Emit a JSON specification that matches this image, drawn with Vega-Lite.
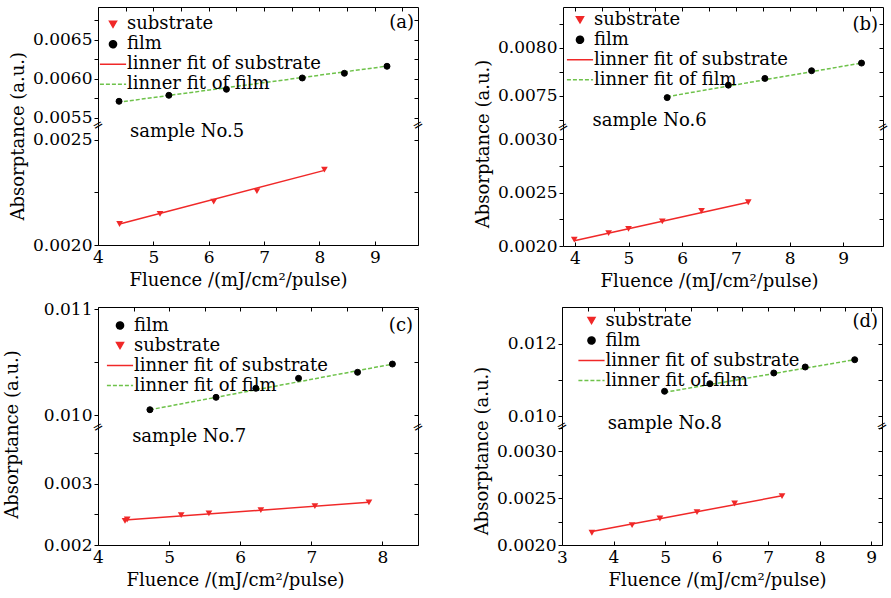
{
"$schema":"https://vega.github.io/schema/vega-lite/v6.json",
"padding":{"left":3,"top":6,"right":2,"bottom":2},
"datasets":{
"d":[
{"p":"a","label":"film","x":4.38,"y":0.005714},{"p":"a","label":"film","x":5.28,"y":0.005791},{"p":"a","label":"film","x":6.32,"y":0.005868},{"p":"a","label":"film","x":7.69,"y":0.006013},{"p":"a","label":"film","x":8.45,"y":0.006073},{"p":"a","label":"film","x":9.22,"y":0.006163},
{"p":"a","label":"linner fit of film","x":4.36,"y":0.005701},{"p":"a","label":"linner fit of film","x":9.2,"y":0.006163},
{"p":"a","label":"substrate","x":4.39,"y":0.0021},{"p":"a","label":"substrate","x":5.12,"y":0.002148},{"p":"a","label":"substrate","x":6.09,"y":0.002206},{"p":"a","label":"substrate","x":6.87,"y":0.002256},{"p":"a","label":"substrate","x":8.09,"y":0.002359},
{"p":"a","label":"linner fit of substrate","x":4.39,"y":0.0021},{"p":"a","label":"linner fit of substrate","x":8.09,"y":0.002355},
{"p":"b","label":"film","x":5.72,"y":0.00748},{"p":"b","label":"film","x":6.86,"y":0.00761},{"p":"b","label":"film","x":7.54,"y":0.00768},{"p":"b","label":"film","x":8.41,"y":0.00776},{"p":"b","label":"film","x":9.34,"y":0.00784},
{"p":"b","label":"linner fit of film","x":5.72,"y":0.00749},{"p":"b","label":"linner fit of film","x":9.34,"y":0.00784},
{"p":"b","label":"substrate","x":3.99,"y":0.00206},{"p":"b","label":"substrate","x":4.63,"y":0.00212},{"p":"b","label":"substrate","x":5.0,"y":0.00216},{"p":"b","label":"substrate","x":5.63,"y":0.00223},{"p":"b","label":"substrate","x":6.36,"y":0.00233},{"p":"b","label":"substrate","x":7.23,"y":0.00241},
{"p":"b","label":"linner fit of substrate","x":3.99,"y":0.00205},{"p":"b","label":"linner fit of substrate","x":7.23,"y":0.00241},
{"p":"c","label":"film","x":4.73,"y":0.01005},{"p":"c","label":"film","x":5.66,"y":0.010167},{"p":"c","label":"film","x":6.22,"y":0.010252},{"p":"c","label":"film","x":6.82,"y":0.010346},{"p":"c","label":"film","x":7.65,"y":0.010403},{"p":"c","label":"film","x":8.14,"y":0.010481},
{"p":"c","label":"linner fit of film","x":4.73,"y":0.01005},{"p":"c","label":"linner fit of film","x":8.14,"y":0.01048},
{"p":"c","label":"substrate","x":4.38,"y":0.002395},{"p":"c","label":"substrate","x":4.41,"y":0.002418},{"p":"c","label":"substrate","x":5.17,"y":0.00249},{"p":"c","label":"substrate","x":5.56,"y":0.002517},{"p":"c","label":"substrate","x":6.29,"y":0.002572},{"p":"c","label":"substrate","x":7.05,"y":0.002638},{"p":"c","label":"substrate","x":7.81,"y":0.0027},
{"p":"c","label":"linner fit of substrate","x":4.38,"y":0.00241},{"p":"c","label":"linner fit of substrate","x":7.81,"y":0.0027},
{"p":"d","label":"film","x":4.99,"y":0.010689},{"p":"d","label":"film","x":5.87,"y":0.010898},{"p":"d","label":"film","x":7.11,"y":0.011193},{"p":"d","label":"film","x":7.72,"y":0.011358},{"p":"d","label":"film","x":8.68,"y":0.011559},
{"p":"d","label":"linner fit of film","x":4.99,"y":0.01066},{"p":"d","label":"linner fit of film","x":8.68,"y":0.01156},
{"p":"d","label":"substrate","x":3.58,"y":0.002131},{"p":"d","label":"substrate","x":4.36,"y":0.002213},{"p":"d","label":"substrate","x":4.9,"y":0.002283},{"p":"d","label":"substrate","x":5.62,"y":0.002351},{"p":"d","label":"substrate","x":6.35,"y":0.002443},{"p":"d","label":"substrate","x":7.27,"y":0.002521},
{"p":"d","label":"linner fit of substrate","x":3.58,"y":0.002145},{"p":"d","label":"linner fit of substrate","x":7.27,"y":0.002525}
],
"notes":[
{"p":"a","tag":"(a)","sample":"sample No.5","brk":"="},
{"p":"b","tag":"(b)","sample":"sample No.6","brk":"="},
{"p":"c","tag":"(c)","sample":"sample No.7","brk":"="},
{"p":"d","tag":"(d)","sample":"sample No.8","brk":"="}
]
},
"data":{"name":"d"},
"spacing":10,
"resolve":{"scale":{"x":"independent","y":"independent","fill":"independent","stroke":"independent","shape":"independent","strokeDash":"independent"},"legend":{"fill":"independent","stroke":"independent","shape":"independent","strokeDash":"independent"}},
"vconcat":[
{"hconcat":[
 {"vconcat":[
  {"width":320,"height":118,"resolve":{"axis":{"x":"independent","y":"independent"}},
   "layer":[
    {"transform":[{"filter":"datum.p==='a' && datum.label==='linner fit of film'"}],
     "mark":{"type":"line","strokeWidth":1.5},
     "encoding":{
      "x":{"field":"x","type":"quantitative","scale":{"domain":[4,9.78],"nice":false,"zero":false},"axis":{"orient":"top","values":[4,4.5,5,5.5,6,6.5,7,7.5,8,8.5,9,9.5],"labels":false,"tickSize":-4,"title":null}},
      "y":{"field":"y","type":"quantitative","scale":{"domain":[0.00541,0.006923],"nice":false,"zero":false},"axis":{"orient":"right","values":[0.0055,0.00575,0.006,0.00625,0.0065,0.00675],"labels":false,"tickSize":-4,"title":null}},
      "stroke":{"field":"label","type":"nominal","scale":{"domain":["substrate","film","linner fit of substrate","linner fit of film"],"range":["#f02828","#000000","#f02828","#6ec24a"]},"legend":{"orient":"none","legendX":6,"legendY":8.2,"title":null}},
      "strokeDash":{"field":"label","type":"nominal","scale":{"domain":["substrate","film","linner fit of substrate","linner fit of film"],"range":[[1,0],[1,0],[1,0],[4,2]]},"legend":{"orient":"none","legendX":6,"legendY":8.2,"title":null}}
     }},
    {"transform":[{"filter":"datum.p==='a' && datum.label==='film'"}],
     "mark":{"type":"point","filled":true,"size":36,"opacity":1,"strokeWidth":1},
     "encoding":{
      "x":{"field":"x","type":"quantitative","scale":{"domain":[4,9.78],"nice":false,"zero":false},"axis":null},
      "y":{"field":"y","type":"quantitative","scale":{"domain":[0.00541,0.006923],"nice":false,"zero":false},"axis":{"orient":"left","values":[0.0055,0.00575,0.006,0.00625,0.0065,0.00675],"format":".4f","labelExpr":"abs(datum.value*2000-round(datum.value*2000))<0.01 ? datum.label : ''","tickSize":4,"labelPadding":2,"title":null}},
      "fill":{"field":"label","type":"nominal","scale":{"domain":["substrate","film","linner fit of substrate","linner fit of film"],"range":["#f02828","#000000","#f02828","#6ec24a"]},"legend":{"orient":"none","legendX":6,"legendY":8.2,"title":null}},
      "stroke":{"field":"label","type":"nominal","scale":{"domain":["substrate","film","linner fit of substrate","linner fit of film"],"range":["#f02828","#000000","#f02828","#6ec24a"]},"legend":{"orient":"none","legendX":6,"legendY":8.2,"title":null}},
      "shape":{"field":"label","type":"nominal","scale":{"domain":["substrate","film","linner fit of substrate","linner fit of film"],"range":["triangle-down","circle","M-3.7,0H3.7","M-3.7,0H3.7"]},"legend":{"orient":"none","legendX":6,"legendY":8.2,"title":null}}
     }},
    {"data":{"name":"notes"},"transform":[{"filter":"datum.p==='a'"}],
     "mark":{"type":"text","align":"right","baseline":"middle","dx":-4,"fontSize":18},
     "encoding":{"x":{"datum":9.78,"type":"quantitative","scale":{"domain":[4,9.78],"nice":false,"zero":false},"axis":null},"y":{"datum":0.006722,"type":"quantitative","scale":{"domain":[0.00541,0.006923],"nice":false,"zero":false},"axis":null},"text":{"field":"tag"}}},
    {"data":{"name":"notes"},"transform":[{"filter":"datum.p==='a'"}],
     "mark":{"type":"text","align":"center","baseline":"middle","angle":330,"font":"DejaVu Sans","fontSize":13},
     "encoding":{"x":{"datum":4,"type":"quantitative","scale":{"domain":[4,9.78],"nice":false,"zero":false},"axis":null},"y":{"datum":0.00541,"type":"quantitative","scale":{"domain":[0.00541,0.006923],"nice":false,"zero":false},"axis":null},"text":{"field":"brk"}}},
    {"data":{"name":"notes"},"transform":[{"filter":"datum.p==='a'"}],
     "mark":{"type":"text","align":"center","baseline":"middle","angle":330,"font":"DejaVu Sans","fontSize":13},
     "encoding":{"x":{"datum":9.78,"type":"quantitative","scale":{"domain":[4,9.78],"nice":false,"zero":false},"axis":null},"y":{"datum":0.00541,"type":"quantitative","scale":{"domain":[0.00541,0.006923],"nice":false,"zero":false},"axis":null},"text":{"field":"brk"}}}
   ]},
  {"width":320,"height":120,"resolve":{"axis":{"x":"independent","y":"independent"}},
   "layer":[
    {"transform":[{"filter":"datum.p==='a' && datum.label==='linner fit of substrate'"}],
     "mark":{"type":"line","strokeWidth":1.5,"color":"#f02828"},
     "encoding":{
      "x":{"field":"x","type":"quantitative","scale":{"domain":[4,9.78],"nice":false,"zero":false},"axis":{"orient":"bottom","values":[4,4.5,5,5.5,6,6.5,7,7.5,8,8.5,9,9.5],"format":"d","labelExpr":"datum.value % 1 === 0 ? datum.label : ''","tickSize":-4,"labelPadding":8,"title":"Fluence /(mJ/cm²/pulse)","titleX":140,"titlePadding":6}},
      "y":{"field":"y","type":"quantitative","scale":{"domain":[0.002,0.002571],"nice":false,"zero":false},"axis":{"orient":"right","values":[0.002,0.00225,0.0025],"labels":false,"tickSize":-4,"title":null}}
     }},
    {"transform":[{"filter":"datum.p==='a' && datum.label==='substrate'"}],
     "mark":{"type":"point","filled":true,"shape":"triangle-down","size":45,"color":"#f02828","opacity":1},
     "encoding":{
      "x":{"field":"x","type":"quantitative","scale":{"domain":[4,9.78],"nice":false,"zero":false},"axis":null},
      "y":{"field":"y","type":"quantitative","scale":{"domain":[0.002,0.002571],"nice":false,"zero":false},"axis":{"orient":"left","values":[0.002,0.00225,0.0025],"format":".4f","labelExpr":"abs(datum.value*2000-round(datum.value*2000))<0.01 ? datum.label : ''","tickSize":4,"labelPadding":2,"title":"Absorptance (a.u.)","titleY":10.7,"titlePadding":5}}
     }},
    {"data":{"name":"notes"},"transform":[{"filter":"datum.p==='a'"}],
     "mark":{"type":"text","align":"left","baseline":"middle","fontSize":18},
     "encoding":{"x":{"datum":4.58,"type":"quantitative","scale":{"domain":[4,9.78],"nice":false,"zero":false},"axis":null},"y":{"datum":0.002537,"type":"quantitative","scale":{"domain":[0.002,0.002571],"nice":false,"zero":false},"axis":null},"text":{"field":"sample"}}}
   ]}
 ],"spacing":0,"bounds":"flush","resolve":{"scale":{"x":"independent","y":"independent","fill":"independent","stroke":"independent","shape":"independent","strokeDash":"independent"},"legend":{"fill":"independent","stroke":"independent","shape":"independent","strokeDash":"independent"}}},
 {"vconcat":[
  {"width":320,"height":120,"resolve":{"axis":{"x":"independent","y":"independent"}},
   "layer":[
    {"transform":[{"filter":"datum.p==='b' && datum.label==='linner fit of film'"}],
     "mark":{"type":"line","strokeWidth":1.5},
     "encoding":{
      "x":{"field":"x","type":"quantitative","scale":{"domain":[3.78,9.74],"nice":false,"zero":false},"axis":{"orient":"top","values":[4,4.5,5,5.5,6,6.5,7,7.5,8,8.5,9,9.5],"labels":false,"tickSize":-4,"title":null}},
      "y":{"field":"y","type":"quantitative","scale":{"domain":[0.007174,0.008424],"nice":false,"zero":false},"axis":{"orient":"right","values":[0.00725,0.0075,0.00775,0.008,0.00825],"labels":false,"tickSize":-4,"title":null}},
      "stroke":{"field":"label","type":"nominal","scale":{"domain":["substrate","film","linner fit of substrate","linner fit of film"],"range":["#f02828","#000000","#f02828","#6ec24a"]},"legend":{"orient":"none","legendX":8,"legendY":3.8,"title":null}},
      "strokeDash":{"field":"label","type":"nominal","scale":{"domain":["substrate","film","linner fit of substrate","linner fit of film"],"range":[[1,0],[1,0],[1,0],[4,2]]},"legend":{"orient":"none","legendX":8,"legendY":3.8,"title":null}}
     }},
    {"transform":[{"filter":"datum.p==='b' && datum.label==='film'"}],
     "mark":{"type":"point","filled":true,"size":36,"opacity":1,"strokeWidth":1},
     "encoding":{
      "x":{"field":"x","type":"quantitative","scale":{"domain":[3.78,9.74],"nice":false,"zero":false},"axis":null},
      "y":{"field":"y","type":"quantitative","scale":{"domain":[0.007174,0.008424],"nice":false,"zero":false},"axis":{"orient":"left","values":[0.00725,0.0075,0.00775,0.008,0.00825],"format":".4f","labelExpr":"abs(datum.value*2000-round(datum.value*2000))<0.01 ? datum.label : ''","tickSize":4,"labelPadding":2,"title":null}},
      "fill":{"field":"label","type":"nominal","scale":{"domain":["substrate","film","linner fit of substrate","linner fit of film"],"range":["#f02828","#000000","#f02828","#6ec24a"]},"legend":{"orient":"none","legendX":8,"legendY":3.8,"title":null}},
      "stroke":{"field":"label","type":"nominal","scale":{"domain":["substrate","film","linner fit of substrate","linner fit of film"],"range":["#f02828","#000000","#f02828","#6ec24a"]},"legend":{"orient":"none","legendX":8,"legendY":3.8,"title":null}},
      "shape":{"field":"label","type":"nominal","scale":{"domain":["substrate","film","linner fit of substrate","linner fit of film"],"range":["triangle-down","circle","M-3.7,0H3.7","M-3.7,0H3.7"]},"legend":{"orient":"none","legendX":8,"legendY":3.8,"title":null}}
     }},
    {"data":{"name":"notes"},"transform":[{"filter":"datum.p==='b'"}],
     "mark":{"type":"text","align":"right","baseline":"middle","dx":-5,"fontSize":18},
     "encoding":{"x":{"datum":9.74,"type":"quantitative","scale":{"domain":[3.78,9.74],"nice":false,"zero":false},"axis":null},"y":{"datum":0.008236,"type":"quantitative","scale":{"domain":[0.007174,0.008424],"nice":false,"zero":false},"axis":null},"text":{"field":"tag"}}},
    {"data":{"name":"notes"},"transform":[{"filter":"datum.p==='b'"}],
     "mark":{"type":"text","align":"left","baseline":"middle","fontSize":18},
     "encoding":{"x":{"datum":4.33,"type":"quantitative","scale":{"domain":[3.78,9.74],"nice":false,"zero":false},"axis":null},"y":{"datum":0.00724,"type":"quantitative","scale":{"domain":[0.007174,0.008424],"nice":false,"zero":false},"axis":null},"text":{"field":"sample"}}},
    {"data":{"name":"notes"},"transform":[{"filter":"datum.p==='b'"}],
     "mark":{"type":"text","align":"center","baseline":"middle","angle":330,"font":"DejaVu Sans","fontSize":13},
     "encoding":{"x":{"datum":3.78,"type":"quantitative","scale":{"domain":[3.78,9.74],"nice":false,"zero":false},"axis":null},"y":{"datum":0.007174,"type":"quantitative","scale":{"domain":[0.007174,0.008424],"nice":false,"zero":false},"axis":null},"text":{"field":"brk"}}},
    {"data":{"name":"notes"},"transform":[{"filter":"datum.p==='b'"}],
     "mark":{"type":"text","align":"center","baseline":"middle","angle":330,"font":"DejaVu Sans","fontSize":13},
     "encoding":{"x":{"datum":9.74,"type":"quantitative","scale":{"domain":[3.78,9.74],"nice":false,"zero":false},"axis":null},"y":{"datum":0.007174,"type":"quantitative","scale":{"domain":[0.007174,0.008424],"nice":false,"zero":false},"axis":null},"text":{"field":"brk"}}}
   ]},
  {"width":320,"height":119,"resolve":{"axis":{"x":"independent","y":"independent"}},
   "layer":[
    {"transform":[{"filter":"datum.p==='b' && datum.label==='linner fit of substrate'"}],
     "mark":{"type":"line","strokeWidth":1.5,"color":"#f02828"},
     "encoding":{
      "x":{"field":"x","type":"quantitative","scale":{"domain":[3.78,9.74],"nice":false,"zero":false},"axis":{"orient":"bottom","values":[4,4.5,5,5.5,6,6.5,7,7.5,8,8.5,9,9.5],"format":"d","labelExpr":"datum.value % 1 === 0 ? datum.label : ''","tickSize":-4,"labelPadding":8,"title":"Fluence /(mJ/cm²/pulse)","titleX":146,"titlePadding":6}},
      "y":{"field":"y","type":"quantitative","scale":{"domain":[0.002,0.003115],"nice":false,"zero":false},"axis":{"orient":"right","values":[0.002,0.00225,0.0025,0.00275,0.003],"labels":false,"tickSize":-4,"title":null}}
     }},
    {"transform":[{"filter":"datum.p==='b' && datum.label==='substrate'"}],
     "mark":{"type":"point","filled":true,"shape":"triangle-down","size":45,"color":"#f02828","opacity":1},
     "encoding":{
      "x":{"field":"x","type":"quantitative","scale":{"domain":[3.78,9.74],"nice":false,"zero":false},"axis":null},
      "y":{"field":"y","type":"quantitative","scale":{"domain":[0.002,0.003115],"nice":false,"zero":false},"axis":{"orient":"left","values":[0.002,0.00225,0.0025,0.00275,0.003],"format":".4f","labelExpr":"abs(datum.value*2000-round(datum.value*2000))<0.01 ? datum.label : ''","tickSize":4,"labelPadding":2,"title":"Absorptance (a.u.)","titleY":16.5,"titlePadding":5}}
     }}
   ]}
 ],"spacing":0,"bounds":"flush","resolve":{"scale":{"x":"independent","y":"independent","fill":"independent","stroke":"independent","shape":"independent","strokeDash":"independent"},"legend":{"fill":"independent","stroke":"independent","shape":"independent","strokeDash":"independent"}}}
],"spacing":47,"resolve":{"scale":{"x":"independent","y":"independent","fill":"independent","stroke":"independent","shape":"independent","strokeDash":"independent"},"legend":{"fill":"independent","stroke":"independent","shape":"independent","strokeDash":"independent"}}},
{"hconcat":[
 {"vconcat":[
  {"width":320,"height":120,"resolve":{"axis":{"x":"independent","y":"independent"}},
   "layer":[
    {"transform":[{"filter":"datum.p==='c' && datum.label==='linner fit of film'"}],
     "mark":{"type":"line","strokeWidth":1.5},
     "encoding":{
      "x":{"field":"x","type":"quantitative","scale":{"domain":[4,8.5],"nice":false,"zero":false},"axis":{"orient":"top","values":[4,4.5,5,5.5,6,6.5,7,7.5,8],"labels":false,"tickSize":-4,"title":null}},
      "y":{"field":"y","type":"quantitative","scale":{"domain":[0.009887,0.011019],"nice":false,"zero":false},"axis":{"orient":"right","values":[0.01,0.0105,0.011],"labels":false,"tickSize":-4,"title":null}},
      "stroke":{"field":"label","type":"nominal","scale":{"domain":["film","substrate","linner fit of substrate","linner fit of film"],"range":["#000000","#f02828","#f02828","#6ec24a"]},"legend":{"orient":"none","legendX":13,"legendY":9.5,"title":null}},
      "strokeDash":{"field":"label","type":"nominal","scale":{"domain":["film","substrate","linner fit of substrate","linner fit of film"],"range":[[1,0],[1,0],[1,0],[4,2]]},"legend":{"orient":"none","legendX":13,"legendY":9.5,"title":null}}
     }},
    {"transform":[{"filter":"datum.p==='c' && datum.label==='film'"}],
     "mark":{"type":"point","filled":true,"size":36,"opacity":1,"strokeWidth":1},
     "encoding":{
      "x":{"field":"x","type":"quantitative","scale":{"domain":[4,8.5],"nice":false,"zero":false},"axis":null},
      "y":{"field":"y","type":"quantitative","scale":{"domain":[0.009887,0.011019],"nice":false,"zero":false},"axis":{"orient":"left","values":[0.01,0.0105,0.011],"format":".3f","labelExpr":"abs(datum.value*1000-round(datum.value*1000))<0.01 ? datum.label : ''","tickSize":4,"labelPadding":2,"title":null}},
      "fill":{"field":"label","type":"nominal","scale":{"domain":["film","substrate","linner fit of substrate","linner fit of film"],"range":["#000000","#f02828","#f02828","#6ec24a"]},"legend":{"orient":"none","legendX":13,"legendY":9.5,"title":null}},
      "stroke":{"field":"label","type":"nominal","scale":{"domain":["film","substrate","linner fit of substrate","linner fit of film"],"range":["#000000","#f02828","#f02828","#6ec24a"]},"legend":{"orient":"none","legendX":13,"legendY":9.5,"title":null}},
      "shape":{"field":"label","type":"nominal","scale":{"domain":["film","substrate","linner fit of substrate","linner fit of film"],"range":["circle","triangle-down","M-3.7,0H3.7","M-3.7,0H3.7"]},"legend":{"orient":"none","legendX":13,"legendY":9.5,"title":null}}
     }},
    {"data":{"name":"notes"},"transform":[{"filter":"datum.p==='c'"}],
     "mark":{"type":"text","align":"right","baseline":"middle","dx":-5,"fontSize":18},
     "encoding":{"x":{"datum":8.5,"type":"quantitative","scale":{"domain":[4,8.5],"nice":false,"zero":false},"axis":null},"y":{"datum":0.010842,"type":"quantitative","scale":{"domain":[0.009887,0.011019],"nice":false,"zero":false},"axis":null},"text":{"field":"tag"}}},
    {"data":{"name":"notes"},"transform":[{"filter":"datum.p==='c'"}],
     "mark":{"type":"text","align":"center","baseline":"middle","angle":330,"font":"DejaVu Sans","fontSize":13},
     "encoding":{"x":{"datum":4,"type":"quantitative","scale":{"domain":[4,8.5],"nice":false,"zero":false},"axis":null},"y":{"datum":0.009887,"type":"quantitative","scale":{"domain":[0.009887,0.011019],"nice":false,"zero":false},"axis":null},"text":{"field":"brk"}}},
    {"data":{"name":"notes"},"transform":[{"filter":"datum.p==='c'"}],
     "mark":{"type":"text","align":"center","baseline":"middle","angle":330,"font":"DejaVu Sans","fontSize":13},
     "encoding":{"x":{"datum":8.5,"type":"quantitative","scale":{"domain":[4,8.5],"nice":false,"zero":false},"axis":null},"y":{"datum":0.009887,"type":"quantitative","scale":{"domain":[0.009887,0.011019],"nice":false,"zero":false},"axis":null},"text":{"field":"brk"}}}
   ]},
  {"width":320,"height":118,"resolve":{"axis":{"x":"independent","y":"independent"}},
   "layer":[
    {"transform":[{"filter":"datum.p==='c' && datum.label==='linner fit of substrate'"}],
     "mark":{"type":"line","strokeWidth":1.5,"color":"#f02828"},
     "encoding":{
      "x":{"field":"x","type":"quantitative","scale":{"domain":[4,8.5],"nice":false,"zero":false},"axis":{"orient":"bottom","values":[4,4.5,5,5.5,6,6.5,7,7.5,8],"format":"d","labelExpr":"datum.value % 1 === 0 ? datum.label : ''","tickSize":-4,"labelPadding":8,"title":"Fluence /(mJ/cm²/pulse)","titleX":137,"titlePadding":6}},
      "y":{"field":"y","type":"quantitative","scale":{"domain":[0.002,0.003934],"nice":false,"zero":false},"axis":{"orient":"right","values":[0.002,0.0025,0.003,0.0035],"labels":false,"tickSize":-4,"title":null}}
     }},
    {"transform":[{"filter":"datum.p==='c' && datum.label==='substrate'"}],
     "mark":{"type":"point","filled":true,"shape":"triangle-down","size":45,"color":"#f02828","opacity":1},
     "encoding":{
      "x":{"field":"x","type":"quantitative","scale":{"domain":[4,8.5],"nice":false,"zero":false},"axis":null},
      "y":{"field":"y","type":"quantitative","scale":{"domain":[0.002,0.003934],"nice":false,"zero":false},"axis":{"orient":"left","values":[0.002,0.0025,0.003,0.0035],"format":".3f","labelExpr":"abs(datum.value*1000-round(datum.value*1000))<0.01 ? datum.label : ''","tickSize":4,"labelPadding":2,"title":"Absorptance (a.u.)","titleY":7,"titlePadding":22}}
     }},
    {"data":{"name":"notes"},"transform":[{"filter":"datum.p==='c'"}],
     "mark":{"type":"text","align":"left","baseline":"middle","fontSize":18},
     "encoding":{"x":{"datum":4.48,"type":"quantitative","scale":{"domain":[4,8.5],"nice":false,"zero":false},"axis":null},"y":{"datum":0.003769,"type":"quantitative","scale":{"domain":[0.002,0.003934],"nice":false,"zero":false},"axis":null},"text":{"field":"sample"}}}
   ]}
 ],"spacing":0,"bounds":"flush","resolve":{"scale":{"x":"independent","y":"independent","fill":"independent","stroke":"independent","shape":"independent","strokeDash":"independent"},"legend":{"fill":"independent","stroke":"independent","shape":"independent","strokeDash":"independent"}}},
 {"vconcat":[
  {"width":320,"height":119,"resolve":{"axis":{"x":"independent","y":"independent"}},
   "layer":[
    {"transform":[{"filter":"datum.p==='d' && datum.label==='linner fit of film'"}],
     "mark":{"type":"line","strokeWidth":1.5},
     "encoding":{
      "x":{"field":"x","type":"quantitative","scale":{"domain":[3,9.21],"nice":false,"zero":false},"axis":{"orient":"top","values":[3,3.5,4,4.5,5,5.5,6,6.5,7,7.5,8,8.5,9],"labels":false,"tickSize":-4,"title":null}},
      "y":{"field":"y","type":"quantitative","scale":{"domain":[0.009733,0.013011],"nice":false,"zero":false},"axis":{"orient":"right","values":[0.01,0.011,0.012],"labels":false,"tickSize":-4,"title":null}},
      "stroke":{"field":"label","type":"nominal","scale":{"domain":["substrate","film","linner fit of substrate","linner fit of film"],"range":["#f02828","#000000","#f02828","#6ec24a"]},"legend":{"orient":"none","legendX":20.5,"legendY":4.5,"title":null}},
      "strokeDash":{"field":"label","type":"nominal","scale":{"domain":["substrate","film","linner fit of substrate","linner fit of film"],"range":[[1,0],[1,0],[1,0],[4,2]]},"legend":{"orient":"none","legendX":20.5,"legendY":4.5,"title":null}}
     }},
    {"transform":[{"filter":"datum.p==='d' && datum.label==='film'"}],
     "mark":{"type":"point","filled":true,"size":36,"opacity":1,"strokeWidth":1},
     "encoding":{
      "x":{"field":"x","type":"quantitative","scale":{"domain":[3,9.21],"nice":false,"zero":false},"axis":null},
      "y":{"field":"y","type":"quantitative","scale":{"domain":[0.009733,0.013011],"nice":false,"zero":false},"axis":{"orient":"left","values":[0.01,0.011,0.012],"format":".3f","labelExpr":"abs(datum.value*500-round(datum.value*500))<0.01 ? datum.label : ''","tickSize":4,"labelPadding":2,"title":null}},
      "fill":{"field":"label","type":"nominal","scale":{"domain":["substrate","film","linner fit of substrate","linner fit of film"],"range":["#f02828","#000000","#f02828","#6ec24a"]},"legend":{"orient":"none","legendX":20.5,"legendY":4.5,"title":null}},
      "stroke":{"field":"label","type":"nominal","scale":{"domain":["substrate","film","linner fit of substrate","linner fit of film"],"range":["#f02828","#000000","#f02828","#6ec24a"]},"legend":{"orient":"none","legendX":20.5,"legendY":4.5,"title":null}},
      "shape":{"field":"label","type":"nominal","scale":{"domain":["substrate","film","linner fit of substrate","linner fit of film"],"range":["triangle-down","circle","M-3.7,0H3.7","M-3.7,0H3.7"]},"legend":{"orient":"none","legendX":20.5,"legendY":4.5,"title":null}}
     }},
    {"data":{"name":"notes"},"transform":[{"filter":"datum.p==='d'"}],
     "mark":{"type":"text","align":"right","baseline":"middle","dx":-4,"fontSize":18},
     "encoding":{"x":{"datum":9.21,"type":"quantitative","scale":{"domain":[3,9.21],"nice":false,"zero":false},"axis":null},"y":{"datum":0.01259,"type":"quantitative","scale":{"domain":[0.009733,0.013011],"nice":false,"zero":false},"axis":null},"text":{"field":"tag"}}},
    {"data":{"name":"notes"},"transform":[{"filter":"datum.p==='d'"}],
     "mark":{"type":"text","align":"left","baseline":"middle","fontSize":18},
     "encoding":{"x":{"datum":3.89,"type":"quantitative","scale":{"domain":[3,9.21],"nice":false,"zero":false},"axis":null},"y":{"datum":0.009796,"type":"quantitative","scale":{"domain":[0.009733,0.013011],"nice":false,"zero":false},"axis":null},"text":{"field":"sample"}}},
    {"data":{"name":"notes"},"transform":[{"filter":"datum.p==='d'"}],
     "mark":{"type":"text","align":"center","baseline":"middle","angle":330,"font":"DejaVu Sans","fontSize":13},
     "encoding":{"x":{"datum":3,"type":"quantitative","scale":{"domain":[3,9.21],"nice":false,"zero":false},"axis":null},"y":{"datum":0.009733,"type":"quantitative","scale":{"domain":[0.009733,0.013011],"nice":false,"zero":false},"axis":null},"text":{"field":"brk"}}},
    {"data":{"name":"notes"},"transform":[{"filter":"datum.p==='d'"}],
     "mark":{"type":"text","align":"center","baseline":"middle","angle":330,"font":"DejaVu Sans","fontSize":13},
     "encoding":{"x":{"datum":9.21,"type":"quantitative","scale":{"domain":[3,9.21],"nice":false,"zero":false},"axis":null},"y":{"datum":0.009733,"type":"quantitative","scale":{"domain":[0.009733,0.013011],"nice":false,"zero":false},"axis":null},"text":{"field":"brk"}}}
   ]},
  {"width":320,"height":119,"resolve":{"axis":{"x":"independent","y":"independent"}},
   "layer":[
    {"transform":[{"filter":"datum.p==='d' && datum.label==='linner fit of substrate'"}],
     "mark":{"type":"line","strokeWidth":1.5,"color":"#f02828"},
     "encoding":{
      "x":{"field":"x","type":"quantitative","scale":{"domain":[3,9.21],"nice":false,"zero":false},"axis":{"orient":"bottom","values":[3,3.5,4,4.5,5,5.5,6,6.5,7,7.5,8,8.5,9],"format":"d","labelExpr":"datum.value % 1 === 0 ? datum.label : ''","tickSize":-4,"labelPadding":8,"title":"Fluence /(mJ/cm²/pulse)","titleX":155,"titlePadding":6}},
      "y":{"field":"y","type":"quantitative","scale":{"domain":[0.002,0.00327],"nice":false,"zero":false},"axis":{"orient":"right","values":[0.002,0.00225,0.0025,0.00275,0.003,0.00325],"labels":false,"tickSize":-4,"title":null}}
     }},
    {"transform":[{"filter":"datum.p==='d' && datum.label==='substrate'"}],
     "mark":{"type":"point","filled":true,"shape":"triangle-down","size":45,"color":"#f02828","opacity":1},
     "encoding":{
      "x":{"field":"x","type":"quantitative","scale":{"domain":[3,9.21],"nice":false,"zero":false},"axis":null},
      "y":{"field":"y","type":"quantitative","scale":{"domain":[0.002,0.00327],"nice":false,"zero":false},"axis":{"orient":"left","values":[0.002,0.00225,0.0025,0.00275,0.003,0.00325],"format":".4f","labelExpr":"abs(datum.value*2000-round(datum.value*2000))<0.01 ? datum.label : ''","tickSize":4,"labelPadding":2,"title":"Absorptance (a.u.)","titleY":24.5,"titlePadding":5}}
     }}
   ]}
 ],"spacing":0,"bounds":"flush","resolve":{"scale":{"x":"independent","y":"independent","fill":"independent","stroke":"independent","shape":"independent","strokeDash":"independent"},"legend":{"fill":"independent","stroke":"independent","shape":"independent","strokeDash":"independent"}}}
],"spacing":46,"resolve":{"scale":{"x":"independent","y":"independent","fill":"independent","stroke":"independent","shape":"independent","strokeDash":"independent"},"legend":{"fill":"independent","stroke":"independent","shape":"independent","strokeDash":"independent"}}}
],
"config":{
 "font":"DejaVu Serif",
 "view":{"stroke":null},
 "axis":{"labelFont":"DejaVu Serif","titleFont":"DejaVu Serif","labelFontSize":17,"titleFontSize":18,"titleFontWeight":"normal","labelColor":"#000000","titleColor":"#000000","domainColor":"#000000","tickColor":"#000000","domainWidth":1,"tickWidth":1,"grid":false,"labelOverlap":false,"labelFlush":false},
 "legend":{"labelFont":"DejaVu Serif","labelFontSize":18,"labelColor":"#000000","labelLimit":300,"padding":0,"symbolStrokeWidth":1.5,"symbolSize":50,"rowPadding":2,"labelOffset":5},
 "text":{"font":"DejaVu Serif","fontSize":18,"color":"#000000"}
}
}
